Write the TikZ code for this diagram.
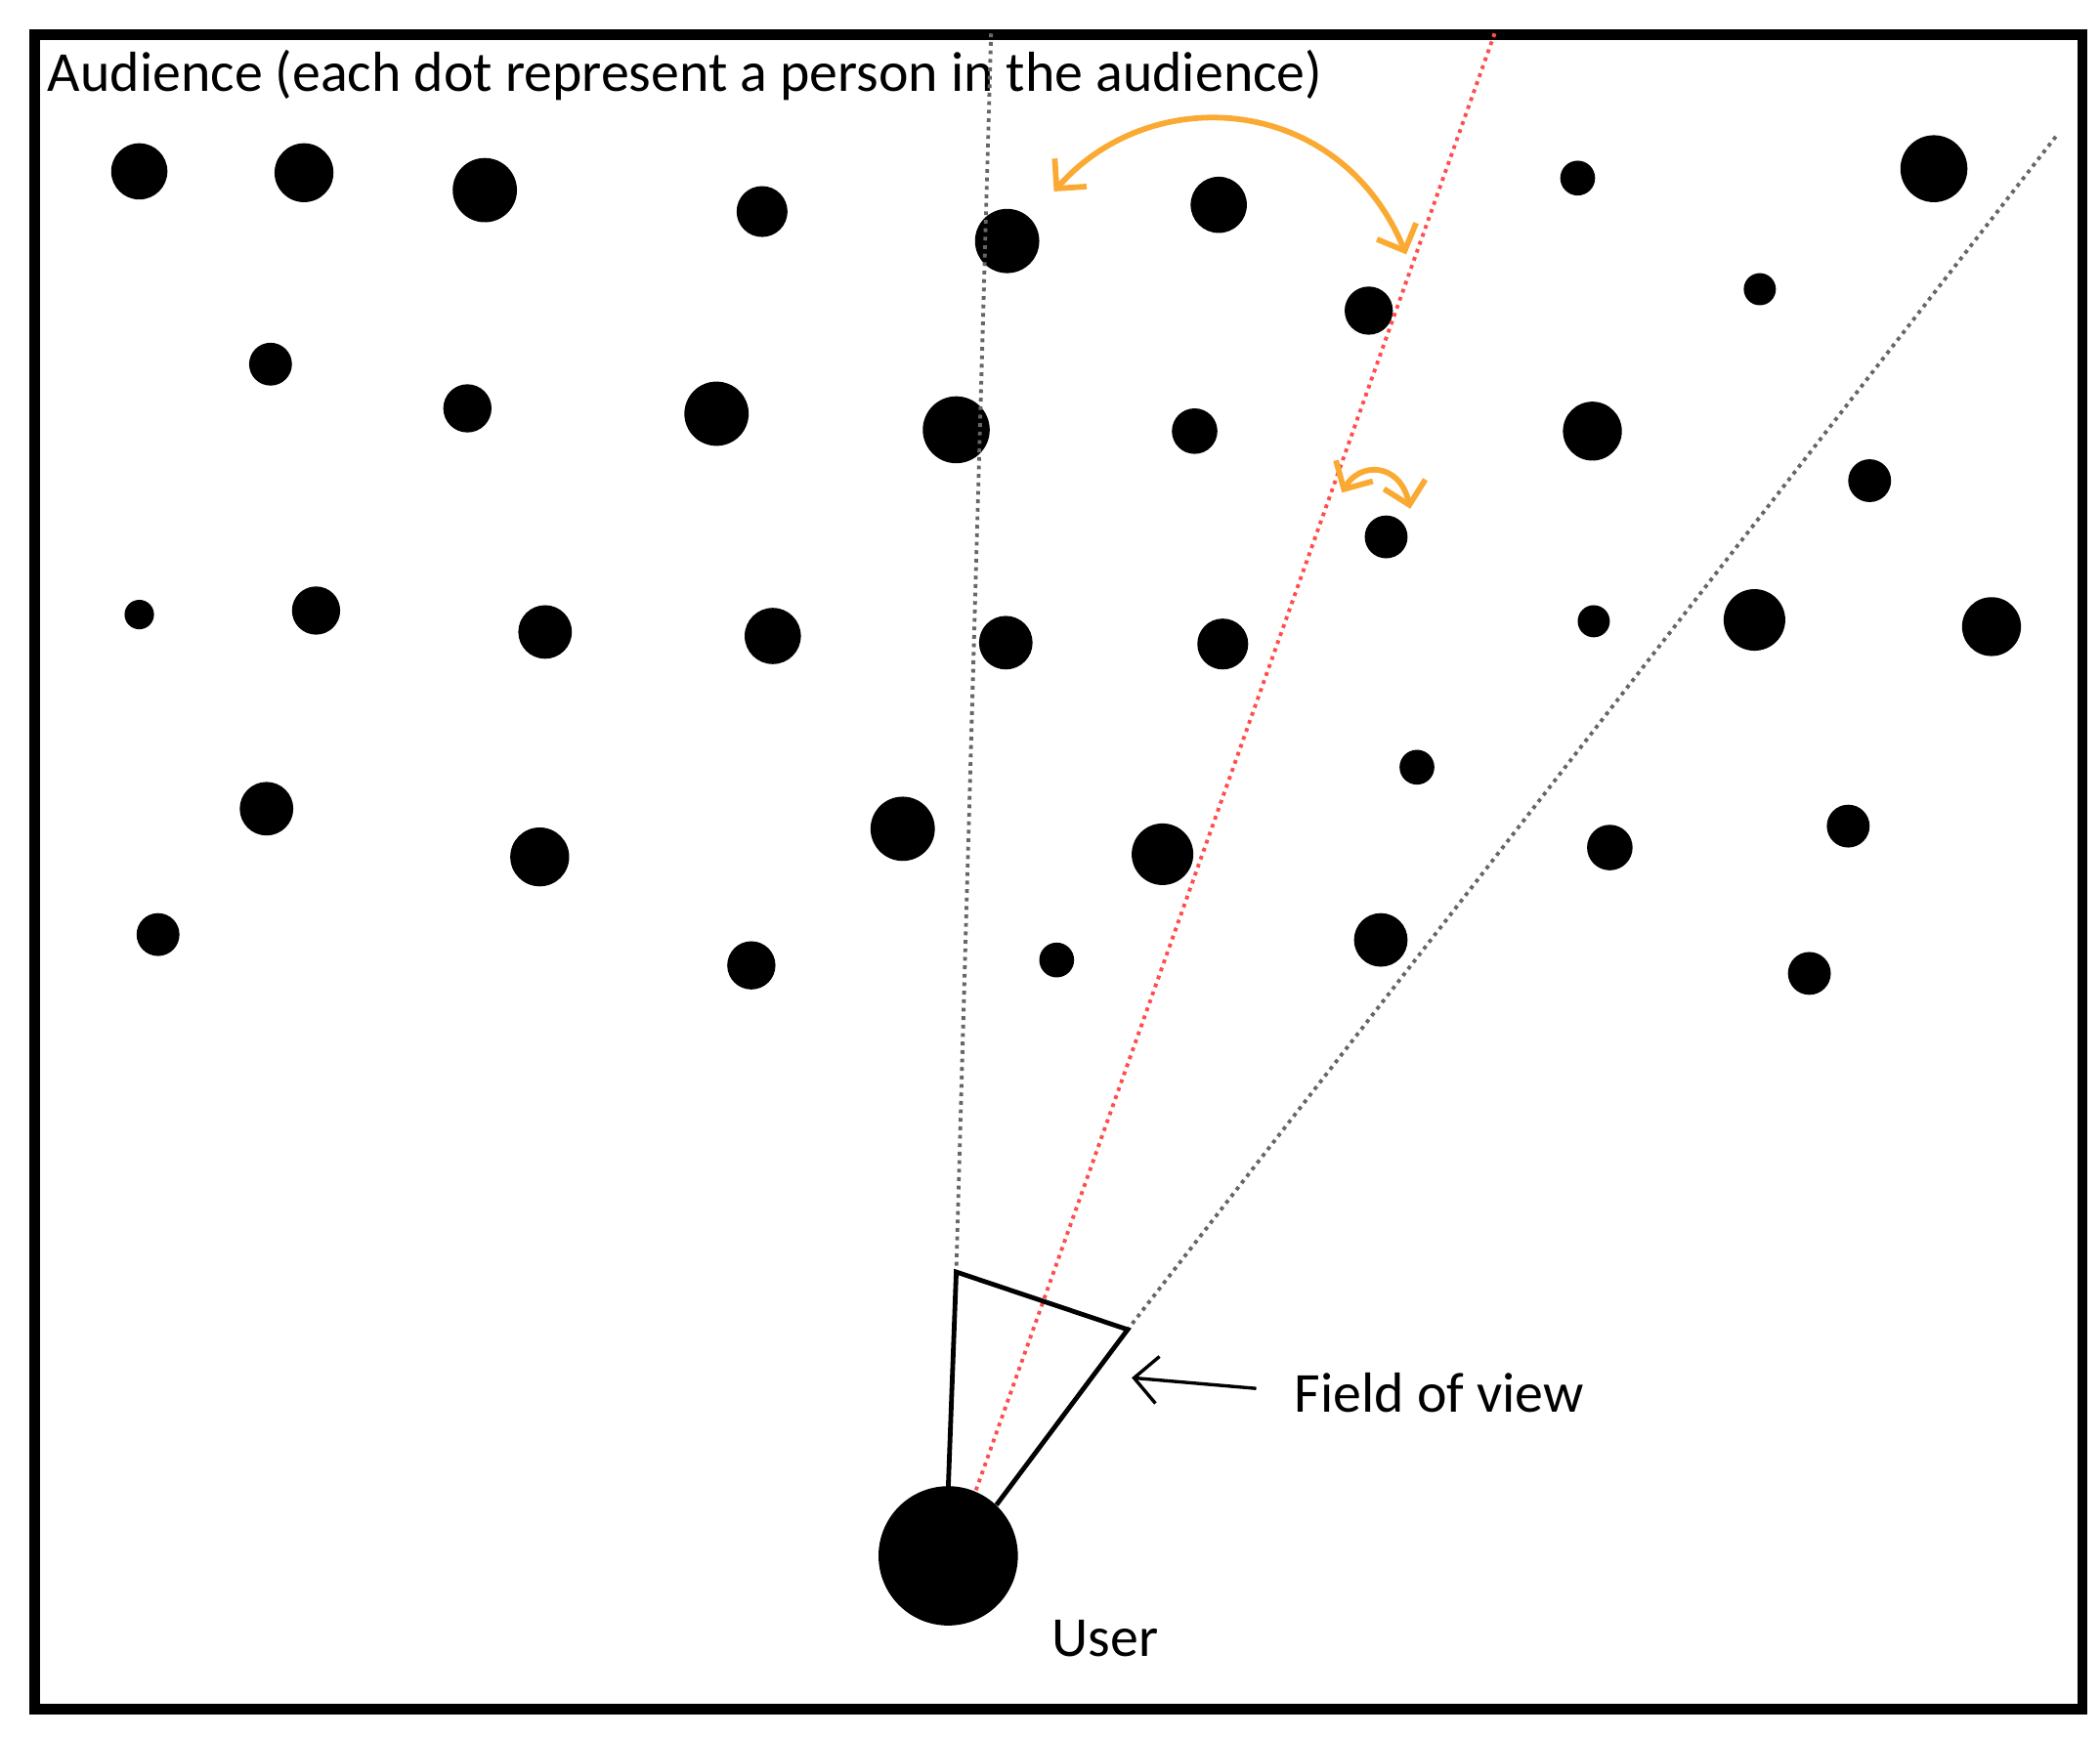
\documentclass[tikz,border=0pt]{standalone}
\usepackage{fontspec}
\setmainfont{Carlito}
\usetikzlibrary{arrows.meta}
\begin{document}
\begin{tikzpicture}[x=0.01cm,y=-0.01cm,
 dot/.style={circle,fill=black,inner sep=0pt,minimum size=#1},
 lbl/.style={font=\fontsize{12}{14}\selectfont,inner sep=0pt},
 orng/.style={draw={rgb,255:red,250;green,170;blue,50},line width=1.2pt,{Straight Barb[length=4.5pt]}-{Straight Barb[length=4.5pt]}}]
\useasboundingbox (0,0) rectangle (1568,1297);
\node[draw,line width=2.2pt,minimum width=15.28cm,minimum height=12.5cm,anchor=north west,inner sep=0pt] (frame) at (22,22) {};
\node[lbl,anchor=west] (title) at (35,56) {Audience (each dot represent a person in the audience)};
\foreach \x/\y/\r [count=\i] in {104/128/21,227/129/22,362/142/24,569/158/19,752/180/24,910/153/21,1178/133/13,1444/126/25,
1022/232/18,1314/216/12,202/272/16,349/305/18,535/309/24,714/321/25,892/322/17,1189/322/22,1396/359/16,
1035/401/16,104/459/11,236/456/18,407/472/20,577/475/21,751/480/20,913/481/19,1190/464/12,1310/463/23,1487/468/22,
1058/573/13,199/604/20,403/640/22,674/619/24,868/638/23,1202/633/17,1380/617/16,
118/698/16,561/721/18,789/717/13,1031/702/20,1351/727/16}
  \node[dot=2*\r*0.01cm] (d\i) at (\x,\y) {};
\node[dot=1.04cm] (user) at (708,1162) {};
\coordinate (tA) at (740,25); \coordinate (fA) at (714,950);
\coordinate (tR) at (1116,25); \coordinate (fR) at (728,1115);
\coordinate (tB) at (1535,102); \coordinate (fB) at (842,993);
\coordinate (u1) at (708,1112); \coordinate (u2) at (744,1124);
\draw[densely dotted,gray!80!black,line width=0.8pt] (tA) -- (fA);
\draw[densely dotted,red!70,line width=0.8pt] (tR) -- (fR);
\draw[densely dotted,gray!80!black,line width=0.8pt] (tB) -- (fB);
\draw[line width=1pt] (u1) -- (fA) -- (fB) -- (u2);
\node[lbl,anchor=west] (fov) at (966,1040) {Field of view};
\coordinate (fovtip) at (845,1029);
\draw[-{Straight Barb[length=5pt]},line width=0.7pt] (938,1037) -- (fovtip);
\node[lbl,anchor=west] (ulbl) at (785,1224) {User};
\coordinate (o1) at (787,143); \coordinate (o2) at (1050,190);
\draw[orng] (o1) .. controls (860,60) and (1000,70) .. (o2);
\coordinate (o3) at (1002,368); \coordinate (o4) at (1053,380);
\draw[orng] (o3) .. controls (1015,345) and (1045,345) .. (o4);
\end{tikzpicture}
\end{document}
